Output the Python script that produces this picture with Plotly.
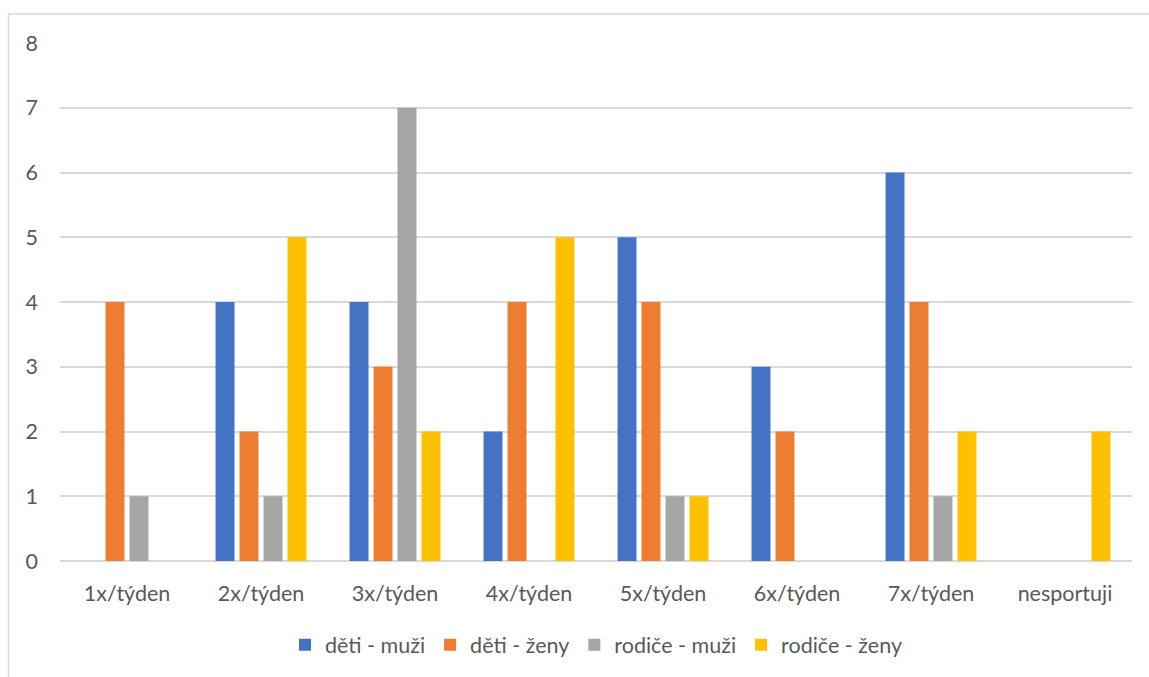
import plotly.graph_objects as go

categories = ["1x/týden", "2x/týden", "3x/týden", "4x/týden",
              "5x/týden", "6x/týden", "7x/týden", "nesportuji"]
deti_muzi = [0, 4, 4, 2, 5, 3, 6, 0]
deti_zeny = [4, 2, 3, 4, 4, 2, 4, 0]
rodice_muzi = [1, 1, 7, 0, 1, 0, 1, 0]
rodice_zeny = [0, 5, 2, 5, 1, 0, 2, 2]

series = [
    ("děti - muži", deti_muzi, "#4472C4"),
    ("děti - ženy", deti_zeny, "#ED7D31"),
    ("rodiče - muži", rodice_muzi, "#A5A5A5"),
    ("rodiče - ženy", rodice_zeny, "#FFC000"),
]

W, H = 1149, 677
L, R, T, B = 60, 17, 43, 114
pw, ph = W - L - R, H - T - B

fig = go.Figure()
for name, vals, color in series:
    fig.add_trace(go.Bar(x=categories, y=vals, name=name,
                         marker=dict(color=color, line=dict(width=0))))

font = dict(family="Lato, 'Open Sans', sans-serif", size=21.5, color="#595959")

fig.update_layout(
    width=W, height=H,
    margin=dict(l=L, r=R, t=T, b=B),
    paper_bgcolor="white", plot_bgcolor="white",
    barmode="group", bargap=0.284, bargroupgap=0.21,
    font=font,
    showlegend=True,
    legend=dict(orientation="h", x=0.5, xanchor="center",
                y=(T + ph - 647) / ph, yanchor="middle",
                font=dict(size=21.5, color="#595959"),
                itemwidth=30, traceorder="normal"),
    xaxis=dict(showgrid=False, showline=False, zeroline=False,
               ticks="", ticklabelstandoff=17, tickfont=font),
    yaxis=dict(range=[0, 8], dtick=1, showgrid=True, gridcolor="#d9d9d9",
               gridwidth=1.5, zeroline=True, zerolinecolor="#d9d9d9",
               zerolinewidth=1.5, showline=False, ticks="",
               ticklabelstandoff=21, tickfont=font),
    shapes=[dict(type="rect", xref="paper", yref="paper",
                 x0=(8.5 - L) / pw, x1=1.2,
                 y0=-0.5, y1=(T + ph - 14) / ph,
                 line=dict(color="#d9d9d9", width=1.5),
                 fillcolor="rgba(0,0,0,0)", layer="below")],
)

fig.write_html("out.html")
